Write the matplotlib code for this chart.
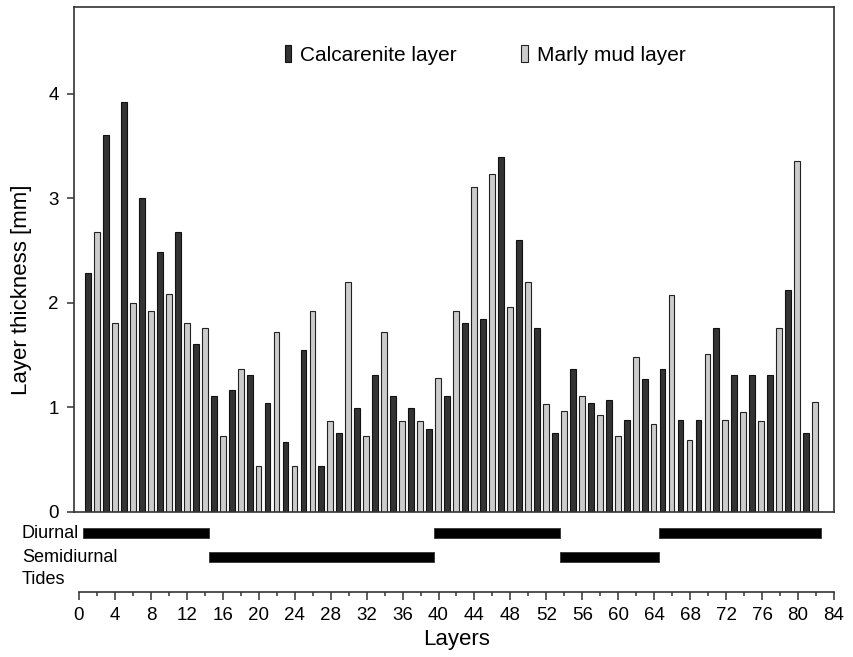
import numpy as np
import matplotlib
matplotlib.use("Agg")
import matplotlib.pyplot as plt
from matplotlib.ticker import MultipleLocator

plt.rcParams['font.family'] = ['Liberation Sans', 'DejaVu Sans']

#Data --------------------------------------------------------------------------
layers = np.arange(1, 83)
thickness = [
    2.28, 2.68, 3.60, 1.80, 3.92, 2.00, 3.00, 1.92, 2.48, 2.08,
    2.68, 1.80, 1.60, 1.76, 1.11, 0.72, 1.16, 1.36, 1.31, 0.44,
    1.04, 1.72, 0.67, 0.44, 1.55, 1.92, 0.44, 0.87, 0.75, 2.20,
    0.99, 0.72, 1.31, 1.72, 1.11, 0.87, 0.99, 0.87, 0.79, 1.28,
    1.11, 1.92, 1.80, 3.11, 1.84, 3.23, 3.39, 1.96, 2.60, 2.20,
    1.76, 1.03, 0.75, 0.96, 1.36, 1.11, 1.04, 0.92, 1.07, 0.72,
    0.88, 1.48, 1.27, 0.84, 1.36, 2.07, 0.88, 0.68, 0.88, 1.51,
    1.76, 0.88, 1.31, 0.95, 1.31, 0.87, 1.31, 1.76, 2.12, 3.36,
    0.75, 1.05,
]
series_names = ["Calcarenite layer", "Marly mud layer"]

#Tidal regime intervals (start layer, end layer)
diurnal = [(0.5, 14.5), (39.5, 53.5), (64.5, 82.5)]
semidiurnal = [(14.5, 39.5), (53.5, 64.5)]
tide_labels = ["Diurnal", "Semidiurnal", "Tides"]

#Split into calcarenite (odd) and marly mud (even) layers
thickness = np.array(thickness)
calc_x, calc_y = layers[0::2], thickness[0::2]
mud_x, mud_y = layers[1::2], thickness[1::2]

#Figure -----------------------------------------------------------------------
W, H = 854, 657
fig = plt.figure(figsize=(W / 100, H / 100), dpi=100)
spine_col = "#333333"

ax = fig.add_axes([74 / W, 1 - 511.5 / H, 760 / W, 504.5 / H])
ax.bar(calc_x, calc_y, width=0.65, color="#333333", edgecolor="#111111",
       linewidth=0.8, label=series_names[0])
ax.bar(mud_x, mud_y, width=0.65, color="#cccccc", edgecolor="#222222",
       linewidth=0.8, label=series_names[1])
ax.set_xlim(-0.56, 84.1)
ax.set_ylim(0, 4.83)
ax.set_yticks([0, 1, 2, 3, 4])
ax.set_xticks([])
ax.tick_params(axis='y', direction='out', length=5, width=1.1,
               labelsize=13.5, pad=6, colors=spine_col, labelcolor="black")
for s in ax.spines.values():
    s.set_color(spine_col)
    s.set_linewidth(1.2)
ax.set_ylabel("Layer thickness [mm]", fontsize=16)
ax.yaxis.set_label_coords(-0.055, 0.44)

ax.legend(loc='center', bbox_to_anchor=(0.541, 0.905), ncol=2, frameon=False,
          fontsize=15, handlelength=0.3, handleheight=0.85, handletextpad=0.45,
          columnspacing=3.1)

#Tides panel ------------------------------------------------------------------
tx = fig.add_axes([79 / W, 1 - 592 / H, 755 / W, 77 / H])
tx.set_xlim(0, 84)
tx.set_ylim(77, 0)
tx.broken_barh([(a, b - a) for a, b in diurnal], (13, 10), facecolor="black",
               edgecolor="#333333", linewidth=0.6)
tx.broken_barh([(a, b - a) for a, b in semidiurnal], (37, 10), facecolor="black",
               edgecolor="#333333", linewidth=0.6)
for s in ['left', 'right', 'top']:
    tx.spines[s].set_visible(False)
tx.spines['bottom'].set_color(spine_col)
tx.spines['bottom'].set_linewidth(1.2)
tx.set_yticks([])
tx.xaxis.set_major_locator(MultipleLocator(4))
tx.xaxis.set_minor_locator(MultipleLocator(2))
tx.tick_params(axis='x', which='major', length=5.5, width=1.1, labelsize=13.5,
               pad=5, colors=spine_col, labelcolor="black")
tx.tick_params(axis='x', which='minor', length=3, width=1.1, colors=spine_col)
tx.set_xlabel("Layers", fontsize=16, labelpad=4)

for lab, ypx in zip(tide_labels, [533, 557, 580]):
    fig.text(22 / W, 1 - ypx / H, lab, fontsize=13, ha='left', va='center')

fig.savefig("out.png", dpi=100)
